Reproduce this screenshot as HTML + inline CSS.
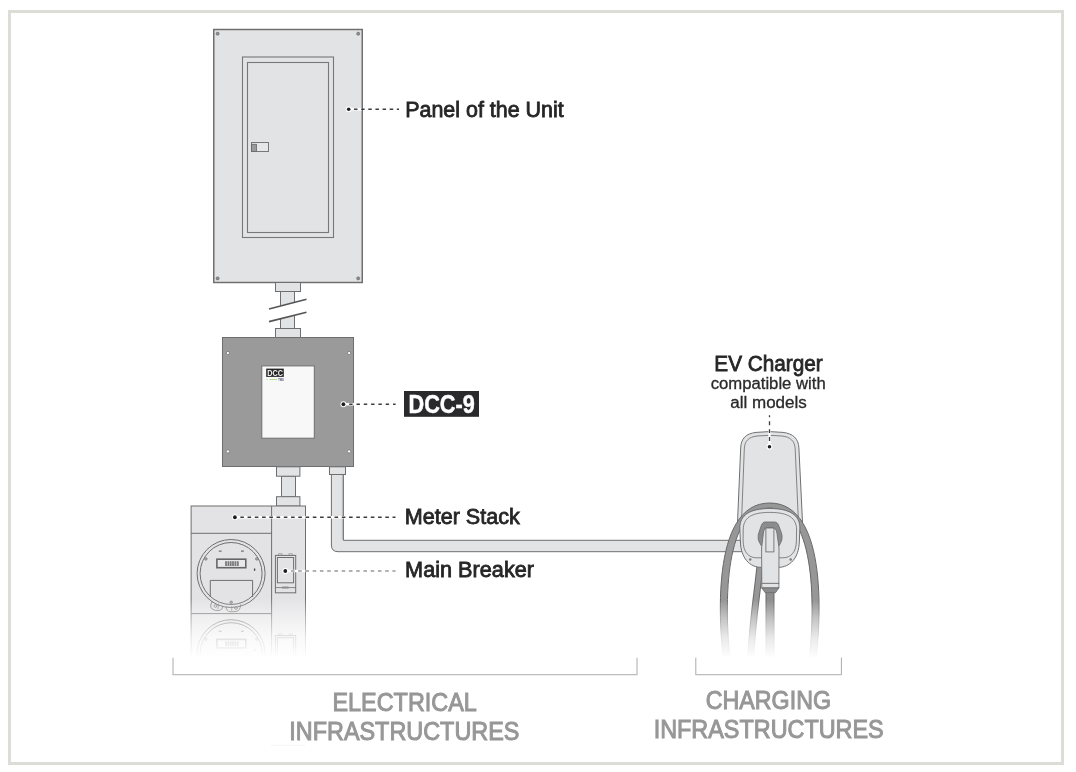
<!DOCTYPE html>
<html><head><meta charset="utf-8">
<style>
html,body{margin:0;padding:0;background:#fff;width:1076px;height:772px;overflow:hidden}
svg{display:block;will-change:transform}
text{font-family:"Liberation Sans",sans-serif}
</style></head><body>
<svg width="1076" height="772" viewBox="0 0 1076 772">
<defs>
  <linearGradient id="fadeM" x1="0" y1="0" x2="0" y2="1">
    <stop offset="0" stop-color="#fff" stop-opacity="0"/>
    <stop offset="0.3" stop-color="#fff" stop-opacity="0.42"/>
    <stop offset="0.65" stop-color="#fff" stop-opacity="0.8"/>
    <stop offset="1" stop-color="#fff" stop-opacity="1"/>
  </linearGradient>
</defs>
<!-- frame -->
<rect x="9.5" y="11.5" width="1053" height="752" fill="none" stroke="#dcddd7" stroke-width="3"/>

<!-- PANEL -->
<g id="panel">
  <rect x="213.75" y="29.5" width="148.5" height="253" fill="#e2e3e5" stroke="#6f6f6f" stroke-width="1.5"/>
  <g fill="#8a8a8a" stroke="#6f6f6f" stroke-width="0.6">
    <circle cx="217.6" cy="33.7" r="1.6"/><circle cx="358.2" cy="33.7" r="1.6"/>
    <circle cx="217.6" cy="278.4" r="1.6"/><circle cx="358.2" cy="278.4" r="1.6"/>
  </g>
  <rect x="242.5" y="57" width="91" height="180.5" fill="none" stroke="#777" stroke-width="1.1"/>
  <rect x="247.5" y="62.5" width="81" height="170" fill="none" stroke="#777" stroke-width="1.1"/>
  <rect x="251.5" y="142.5" width="17" height="9" fill="#e6e7e9" stroke="#777" stroke-width="1"/>
  <rect x="251.5" y="144.3" width="5" height="7.2" fill="#9a9a9a" stroke="#666" stroke-width="0.8"/>
</g>
<!-- dot + dashes panel -->
<line x1="348.7" y1="109.25" x2="362" y2="109.25" stroke="#fff" stroke-width="2.6"/>
<circle cx="348.7" cy="109.25" r="2.9" fill="#fff"/>
<circle cx="348.7" cy="109.25" r="1.8" fill="#1e1e1e"/>
<line x1="354" y1="109.25" x2="399" y2="109.25" stroke="#3c3c3c" stroke-width="1.3" stroke-dasharray="3.5 3.64"/>

<!-- conduit panel -> DCC -->
<g stroke="#6f6f6f" stroke-width="1" fill="#e2e3e5">
  <rect x="280.5" y="291.5" width="14" height="37"/>
  <rect x="275.5" y="282.5" width="25" height="9"/>
  <rect x="275.5" y="328.5" width="25" height="9"/>
</g>
<polygon points="262,310.7 312,297.9 312,310.8 262,323.4" fill="#fff"/>
<line x1="269" y1="308.9" x2="306.5" y2="299.3" stroke="#555" stroke-width="1.6"/>
<line x1="269" y1="321.6" x2="306.5" y2="312.2" stroke="#555" stroke-width="1.6"/>

<!-- DCC BOX -->
<g id="dcc">
  <rect x="222.5" y="337.5" width="131" height="129" fill="#9a9a9a" stroke="#6e6e6e" stroke-width="1"/>
  <g fill="#fff" stroke="#6e6e6e" stroke-width="0.7">
    <circle cx="227.9" cy="353" r="1.6"/><circle cx="349.1" cy="353" r="1.6"/>
    <circle cx="227.9" cy="451.4" r="1.6"/><circle cx="349.1" cy="451.4" r="1.6"/>
  </g>
  <rect x="261.8" y="365.9" width="52.5" height="72.3" fill="#f8f8f8" stroke="#6e6e6e" stroke-width="1"/>
  <rect x="266.2" y="368.6" width="17.6" height="8.3" fill="#262626"/>
  <text x="267.2" y="375.9" font-size="8.8" font-weight="bold" fill="#f0f0f0" textLength="15.8" lengthAdjust="spacingAndGlyphs">DCC</text>
  <line x1="269.5" y1="379.5" x2="277" y2="379.5" stroke="#9cd66a" stroke-width="0.8"/>
  <line x1="266.3" y1="379.5" x2="267.6" y2="379.5" stroke="#bbb" stroke-width="0.6"/>
  <text x="278.2" y="381" font-size="3.6" font-weight="bold" fill="#3d3d6b" textLength="5.6" lengthAdjust="spacingAndGlyphs">TWO</text>
</g>
<line x1="343.4" y1="404.25" x2="354" y2="404.25" stroke="#fff" stroke-width="2.4"/>
<circle cx="343.4" cy="404.25" r="2.9" fill="#fff"/>
<circle cx="343.4" cy="404.25" r="1.9" fill="#1e1e1e"/>
<line x1="349.2" y1="404.25" x2="395.6" y2="404.25" stroke="#3c3c3c" stroke-width="1.3" stroke-dasharray="3.4 3.9"/>
<rect x="404" y="391" width="75" height="25.8" fill="#2a2a2c"/>
<text x="408.5" y="412.6" font-size="25.4" font-weight="bold" fill="#fff" stroke="#fff" stroke-width="0.5" textLength="66.2" lengthAdjust="spacingAndGlyphs">DCC-9</text>

<!-- conduit DCC -> meter -->
<g stroke="#6f6f6f" stroke-width="1" fill="#e2e3e5">
  <rect x="281.5" y="476.2" width="14" height="20.5"/>
  <rect x="276.5" y="466.8" width="23.4" height="9.4"/>
  <rect x="276.5" y="496.7" width="23.4" height="9.3"/>
</g>
<!-- pipe DCC -> charger -->
<path d="M331.4,474 V545 Q331.4,551.7 338,551.7 H742 V540.3 H343.4 V474 Z" fill="#e2e3e5" stroke="#6f6f6f" stroke-width="1"/>
<rect x="329.5" y="466.8" width="16" height="7.7" fill="#e2e3e5" stroke="#6f6f6f" stroke-width="1"/>
<line x1="342.3" y1="475" x2="342.3" y2="539.8" stroke="#b3b3b3" stroke-width="0.9"/>

<!-- METER STACK -->
<g id="meter">
  <rect x="191.1" y="506" width="114.4" height="160" fill="#e3e3e5" stroke="#6f6f6f" stroke-width="1"/>
  <line x1="271.6" y1="506" x2="271.6" y2="666" stroke="#6f6f6f" stroke-width="1"/>
  <line x1="191.1" y1="533.3" x2="271.6" y2="533.3" stroke="#6f6f6f" stroke-width="1"/>
  <line x1="191.1" y1="613.6" x2="271.6" y2="613.6" stroke="#6f6f6f" stroke-width="1"/>
  <g id="mu">
    <circle cx="231.1" cy="573.5" r="34" fill="none" stroke="#6f6f6f" stroke-width="1"/>
    <circle cx="231.1" cy="573.5" r="31" fill="none" stroke="#6f6f6f" stroke-width="1"/>
    <rect x="216.9" y="559.2" width="28.9" height="8.5" fill="#e8e8ea" stroke="#666" stroke-width="1.6"/>
    <g fill="#7a7a7a">
      <rect x="225.1" y="561.2" width="1.8" height="4.8"/><rect x="227.5" y="561.2" width="1.8" height="4.8"/>
      <rect x="229.8" y="561.2" width="1.8" height="4.8"/><rect x="232.1" y="561.2" width="1.8" height="4.8"/>
      <rect x="234.5" y="561.2" width="1.8" height="4.8"/><rect x="236.9" y="561.2" width="1.8" height="4.8"/>
    </g>
    <rect x="218.8" y="550.5" width="2.8" height="1.3" fill="#777"/>
    <rect x="241" y="550.5" width="2.8" height="1.3" fill="#777"/>
    <circle cx="205.9" cy="558.9" r="1.3" fill="#aaa" stroke="#6f6f6f" stroke-width="0.6"/>
    <circle cx="256.8" cy="558.9" r="1.3" fill="#aaa" stroke="#6f6f6f" stroke-width="0.6"/>
    <ellipse cx="254.6" cy="569.7" rx="0.8" ry="1.4" fill="#555"/>
    <path d="M210.3,597 V580.4 H252.6 V597" fill="none" stroke="#6f6f6f" stroke-width="1"/>
    <circle cx="231.2" cy="602.3" r="1.3" fill="#aaa" stroke="#6f6f6f" stroke-width="0.6"/>
    <path d="M212.5,601 Q209.5,606 211.5,608.5 Q214,611 219.5,610.5 Q222.5,610 222.8,606" fill="none" stroke="#777" stroke-width="0.9"/>
    <circle cx="215.5" cy="606" r="1.4" fill="none" stroke="#777" stroke-width="0.8"/>
    <line x1="218.5" y1="603.5" x2="218" y2="609.5" stroke="#888" stroke-width="0.8"/>
    <path d="M226,606.5 Q226.5,611.5 230,611.8 L236,611.5 Q240.5,611 240.5,604.5" fill="none" stroke="#777" stroke-width="0.9"/>
    <circle cx="236" cy="608" r="1.4" fill="none" stroke="#777" stroke-width="0.8"/>
    <line x1="231.7" y1="606" x2="231.7" y2="611" stroke="#888" stroke-width="0.8"/>
    <!-- breaker -->
    <rect x="278.5" y="553.8" width="3.5" height="1.8" fill="#ddd" stroke="#888" stroke-width="0.6"/>
    <rect x="289" y="553.8" width="3.5" height="1.8" fill="#ddd" stroke="#888" stroke-width="0.6"/>
    <rect x="275.4" y="555.4" width="20.3" height="37.4" fill="#e3e3e5" stroke="#6f6f6f" stroke-width="1"/>
    <rect x="277.4" y="557.5" width="16.2" height="25.3" fill="#e3e3e5" stroke="#6f6f6f" stroke-width="1"/>
    <line x1="275.4" y1="587.6" x2="295.7" y2="587.6" stroke="#6f6f6f" stroke-width="0.8"/>
    <rect x="282.5" y="586.8" width="6" height="1.6" fill="none" stroke="#888" stroke-width="0.5"/>
  </g>
  <use href="#mu" y="80.2"/>
  <rect x="185" y="598" width="130" height="60" fill="url(#fadeM)"/>
  <rect x="185" y="657.5" width="130" height="40" fill="#fff"/>
</g>
<line x1="234.9" y1="517.25" x2="398" y2="517.25" stroke="#fff" stroke-width="2.4"/>
<circle cx="234.9" cy="517.25" r="2.9" fill="#fff"/>
<circle cx="234.9" cy="517.25" r="1.9" fill="#1e1e1e"/>
<line x1="240.3" y1="517.25" x2="395.5" y2="517.25" stroke="#3c3c3c" stroke-width="1.3" stroke-dasharray="3.6 3.65"/>
<line x1="285.3" y1="571" x2="305.5" y2="571" stroke="#fff" stroke-width="2.4"/>
<circle cx="285.3" cy="571" r="3" fill="#fff"/>
<circle cx="285.3" cy="571" r="1.9" fill="#1e1e1e"/>
<line x1="290.9" y1="571" x2="395.5" y2="571" stroke="#999" stroke-width="1.6" stroke-dasharray="3.6 3.65"/>

<!-- EV CHARGER -->
<g id="charger">
  <!-- body -->
  <path d="M737.2,530 L740.7,448 C741,438.5 746,433.6 756,432.4 Q769.5,430.8 783,432.4 C793,433.6 798.5,438.5 798.9,448 L802.9,530 Z" fill="#e2e3e5" stroke="#707070" stroke-width="1"/>
  <path d="M741.2,530 L744.3,449 C744.6,441 748.5,437 757,436 Q769.5,434.6 782,436 C790.5,437 794.8,441 795.2,449 L798.8,530" fill="none" stroke="#777" stroke-width="0.9"/>
  <!-- second cable -->
  <path d="M760.5,560 C758,590 752,620 750.5,665" fill="none" stroke="#686868" stroke-width="7"/>
  <path d="M760.5,560 C758,590 752,620 750.5,665" fill="none" stroke="#979797" stroke-width="5"/>
  <!-- ring -->
  <path d="M723.9,664 C719.33,628.8 709.36,503 769.7,503 C830.04,503 820.07,628.8 815.5,664 L807.55,664 C808.48,677.37 830.14,508 769.7,508 C709.26,508 730.92,677.37 731.85,664 Z" fill="#979797" stroke="#686868" stroke-width="1"/>
  <!-- holster -->
  <path d="M739.8,528 C739.8,515 750,508.5 769.8,508.5 C789.5,508.5 799.9,515 799.9,528 L799.3,542 C798.8,558 790,567.4 778,567.4 L761.5,567.4 C749.5,567.4 741,558 740.4,542 Z" fill="#e2e3e5" stroke="#6f6f6f" stroke-width="1"/>
  <path d="M743.2,530 C743.2,518 751,512.4 769.8,512.4 C788.5,512.4 796.6,518 796.6,530 L796.4,541 C796.2,552 791,557.8 783,557.8 L756.5,557.8 C748.5,557.8 743.3,552 743.1,541 Z" fill="none" stroke="#777" stroke-width="0.9"/>
  <circle cx="750.2" cy="559.6" r="1.25" fill="#7a7a7a"/>
  <circle cx="790.7" cy="559.6" r="1.25" fill="#7a7a7a"/>
  <!-- plug cable -->
  <rect x="766" y="590" width="8" height="75" fill="#8f8f8f" stroke="#6a6a6a" stroke-width="1"/>
  <!-- plug head -->
  <path d="M765,522 L774.5,522 C776.5,522 777.6,523 778.5,525 L781.3,532.5 C782.4,535.5 782.4,539.5 781,542 L779,546 L761.5,546 L759.2,542 C757.8,539.5 757.8,535.5 758.9,532.5 L761.5,525 C762.4,523 763.5,522 765,522 Z" fill="#8c8c8c" stroke="#6a6a6a" stroke-width="0.8"/>
  <!-- handle -->
  <path d="M763.5,532 Q764,527.4 770,527.4 Q776,527.4 776.8,532 L779,548 L778.9,583.5 L761.8,583.5 L761.6,548 Z" fill="#e2e3e5" stroke="#6f6f6f" stroke-width="0.9"/>
  <rect x="765.9" y="528" width="8" height="23.9" fill="#e2e3e5" stroke="#6f6f6f" stroke-width="0.9"/>
  <rect x="761.8" y="583.3" width="17.1" height="4.6" fill="#e2e3e5" stroke="#6f6f6f" stroke-width="0.9"/>
  <path d="M761.8,587.9 L778.9,587.9 L775.5,592.7 L765.2,592.7 Z" fill="#8c8c8c" stroke="#6a6a6a" stroke-width="0.8"/>
  <!-- fade -->
  <rect x="700" y="600" width="140" height="58" fill="url(#fadeM)"/>
  <rect x="700" y="657.5" width="140" height="10" fill="#fff"/>
</g>
<line x1="769.5" y1="446.7" x2="769.5" y2="429" stroke="#fff" stroke-width="2.4"/>
<circle cx="769.5" cy="446.7" r="2.9" fill="#fff"/>
<circle cx="769.5" cy="446.7" r="1.8" fill="#1e1e1e"/>
<line x1="769.5" y1="441" x2="769.5" y2="415.2" stroke="#3c3c3c" stroke-width="1.3" stroke-dasharray="3.9 4"/>

<!-- labels -->
<text x="405.2" y="116.8" font-size="21.5" fill="#262626" stroke="#262626" stroke-width="0.8" textLength="158.5" lengthAdjust="spacingAndGlyphs">Panel of the Unit</text>
<text x="404.7" y="523.9" font-size="21.5" fill="#262626" stroke="#262626" stroke-width="0.8" textLength="115.1" lengthAdjust="spacingAndGlyphs">Meter Stack</text>
<text x="405.1" y="576.9" font-size="21.5" fill="#262626" stroke="#262626" stroke-width="0.8" textLength="128.9" lengthAdjust="spacingAndGlyphs">Main Breaker</text>
<text x="714.3" y="370.6" font-size="21.5" fill="#262626" stroke="#262626" stroke-width="0.8" textLength="108.4" lengthAdjust="spacingAndGlyphs">EV Charger</text>
<text x="710.7" y="388.6" font-size="16" fill="#2a2a2a" stroke="#2a2a2a" stroke-width="0.3" textLength="115.0" lengthAdjust="spacingAndGlyphs">compatible with</text>
<text x="730.3" y="407.7" font-size="16" fill="#2a2a2a" stroke="#2a2a2a" stroke-width="0.3" textLength="76.5" lengthAdjust="spacingAndGlyphs">all models</text>

<!-- brackets -->
<path d="M173,657.8 V674.6 M637,674.6 V657.8" fill="none" stroke="#ababab" stroke-width="1"/>
<line x1="172.5" y1="674.6" x2="637.5" y2="674.6" stroke="#bdbdbd" stroke-width="1.3"/>
<line x1="271" y1="745.3" x2="305" y2="745.3" stroke="#f4f4f4" stroke-width="1"/>
<path d="M695.8,657.7 V674.6 M841.4,674.6 V657.7" fill="none" stroke="#ababab" stroke-width="1"/>
<line x1="695.3" y1="674.6" x2="841.9" y2="674.6" stroke="#bdbdbd" stroke-width="1.3"/>
<text x="332.4" y="710.6" font-size="25.6" fill="#979797" stroke="#979797" stroke-width="1" textLength="144.5" lengthAdjust="spacingAndGlyphs">ELECTRICAL</text>
<text x="289.3" y="739.6" font-size="25.6" fill="#979797" stroke="#979797" stroke-width="1" textLength="230.1" lengthAdjust="spacingAndGlyphs">INFRASTRUCTURES</text>
<text x="705.8" y="709.3" font-size="25.6" fill="#979797" stroke="#979797" stroke-width="1" textLength="125.2" lengthAdjust="spacingAndGlyphs">CHARGING</text>
<text x="653.7" y="738.2" font-size="25.6" fill="#979797" stroke="#979797" stroke-width="1" textLength="230.0" lengthAdjust="spacingAndGlyphs">INFRASTRUCTURES</text>
</svg>
</body></html>
